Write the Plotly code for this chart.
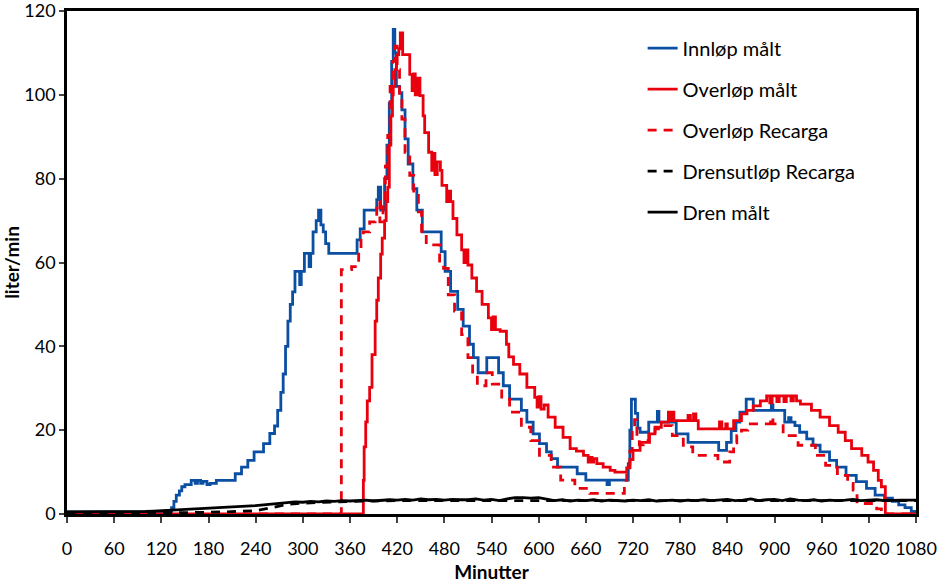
import plotly.graph_objects as go

# ---- Data (minutes, liter/min) ----
innlop_t = [0, 133, 136, 139, 143, 146, 150, 158, 163, 166, 170, 173, 178, 182, 190, 214, 222, 230, 238, 250, 258,
            264, 268, 272, 275, 278, 281, 284, 287, 290, 296, 298, 302, 308, 310, 313, 317, 320, 323, 326, 329, 333,
            369, 373, 378, 394, 396, 399, 404, 407, 410, 413, 415, 417, 419, 423, 426, 430, 434, 440, 445, 452,
            476, 481, 488, 497, 504, 512, 517, 523, 534, 549, 555, 563, 578, 585, 593, 601, 610, 616, 624, 649,
            660, 687, 690, 714, 716, 718, 720, 723, 726, 729, 740, 751, 753, 775, 790, 829, 839, 845, 851, 856,
            864, 873, 896, 898, 913, 918, 921, 926, 932, 941, 949, 958, 970, 979, 991, 1004, 1017, 1028, 1040,
            1050, 1058, 1066, 1074, 1080]
innlop_v = [0.5, 1.5, 3, 4.5, 5.5, 6.5, 7, 8, 7.3, 8, 7.3, 7.8, 7, 7.3, 8, 9.6, 11.2, 12.8, 14.8, 16.8, 19.2,
            21, 24.7, 29, 33.4, 40, 46, 50, 53, 57.9, 54.7, 57.9, 62.2, 59, 62.2, 67.3, 70, 72.5, 69, 67.3, 64.5, 62.2,
            65.4, 68, 72.5, 75, 78, 72.5, 80, 88, 98, 108, 115.6, 110, 102, 100.5, 96.4, 89.5, 83.5, 77.6, 72.5, 67.3,
            62.6, 57.9, 53.1, 48.8, 44.8, 40.5, 37.3, 33.7, 37.3, 33.7, 30.6, 27.4, 24.7, 21.9, 19.1, 16.8, 14.8, 13.2, 11.2, 9.6,
            8.1, 7, 8.1, 12, 20, 27.4, 27.4, 24, 20.5, 19.5, 21.9, 24.5, 21.9, 19.1, 17.1, 15.2, 17.1, 19.9, 21.9, 24.3,
            27.4, 24.7, 26, 24.7, 21.9, 23, 21.9, 21.1, 19.5, 17.9, 16.4, 14.8, 12.8, 11.2, 9.2, 7.7, 6.1, 4.5, 3.8,
            3.0, 2.2, 1.5, 0.6, 0.3]

overlop_t = [0, 377, 378, 380, 382, 385, 388, 392, 394, 396, 399, 401, 404, 406, 408, 410, 412, 414, 415, 417, 419,
             422, 424, 427, 436, 439, 441, 443, 446, 449, 453, 455, 460, 464, 466, 468, 471, 475, 477, 483, 486, 488,
             491, 496, 502, 505, 507, 510, 515, 521, 528, 536, 540, 542, 545, 551, 559, 562, 568, 576, 585, 595, 598,
             600, 603, 607, 612, 621, 631, 640, 648, 657, 663, 665, 668, 670, 674, 682, 691, 697, 712, 716, 720, 729,
             741, 748, 756, 765, 767, 770, 772, 790, 793, 797, 800, 803, 830, 833, 838, 840, 848, 858, 865, 873, 882,
             890, 894, 897, 903, 906, 912, 915, 921, 924, 928, 933, 947, 958, 970, 981, 990, 998, 1011, 1019, 1026,
             1032, 1036, 1041, 1080]
overlop_v = [0, 8, 16, 22, 27, 30.2, 38, 46, 51, 56.3, 62, 65.8, 70, 74.5, 78, 88, 95, 100, 102, 106, 109.6,
             111, 114.8, 109.6, 104.9, 101, 105, 100, 104, 99.8, 95, 91, 86.3, 82, 86, 81, 84, 82, 78.4, 74.5, 77, 74.5,
             70.5, 66.6, 63, 60, 63, 59.4, 56.3, 53.1, 50, 46.8, 44, 47, 44, 43.6, 40.5, 37.5, 35.7, 33.4, 30.2, 27.8, 25.5,
             28, 25, 26, 23.1, 20.7, 18.3, 15.6, 15, 14, 12.4, 13.5, 12.4, 13.2, 12, 11.2, 10.4, 10, 11, 13, 15.2, 17.1,
             19.1, 20.7, 21.9, 24.3, 22.3, 24.3, 22.3, 23.5, 22.3, 23.9, 22.3, 20.3, 22, 20.3, 21.5, 20.3, 22.3, 23.9, 24.7, 25.8, 27,
             28.2, 26.5, 28.2, 26.8, 28.2, 26.8, 28.2, 27, 28.2, 27, 26.2, 24.7, 23.1, 21.1, 19.5, 17.5, 15.6, 14, 12.4, 10.4,
             8, 6.5, 0, 0]

recarga_t = [0, 349, 362, 371, 374, 377, 385, 392, 394, 398, 402, 405, 408, 411, 414, 417, 420, 423, 426, 430, 436,
             441, 447, 451, 457, 474, 479, 485, 493, 502, 510, 516, 522, 533, 541, 553, 563, 578, 590, 601, 616, 628,
             646, 665, 709, 712, 716, 719, 722, 725, 728, 733, 740, 748, 756, 770, 784, 796, 828, 843, 848, 852, 858,
             866, 895, 898, 911, 930, 952, 965, 980, 993, 1000, 1005, 1020, 1030, 1036, 1080]
recarga_v = [0, 58.3, 59, 62, 66.6, 67.3, 69.7, 70, 74.5, 69.7, 75, 83, 90.3, 102, 108, 111.6, 106, 100, 94.2, 86.3, 80.8,
             76, 72.1, 66.6, 64.2, 59.4, 58.6, 52.3, 48.4, 42.8, 37.3, 33, 30.6, 33.7, 31, 27.4, 24.3, 20.7, 17.5, 14, 11.2, 8.1,
             6.1, 4.9, 8, 11.2, 15, 20, 22.5, 18, 16.5, 17.5, 19, 20.3, 21.1, 18.7, 16, 14, 12.4, 14.8, 17, 18.7, 20,
             21.5, 23.1, 21.5, 18.7, 16.4, 14, 11.6, 9.2, 7.3, 5.7, 2.5, 2.5, 1.2, 0, 0]

drens_recarga_t = [0, 150, 200, 240, 260, 280, 300, 340, 380, 420, 1080]
drens_recarga_v = [0.3, 0.3, 0.5, 0.8, 1.5, 2.3, 2.6, 2.9, 3.1, 3.2, 3.2]

dren_t = list(range(0, 1081, 10))
dren_v = [0.5, 0.5, 0.6, 0.5, 0.5, 0.6, 0.5, 0.5, 0.5, 0.6, 0.6, 0.7, 0.8, 0.9, 1.0, 1.0, 1.1, 1.2, 1.3, 1.4,
          1.5, 1.6, 1.7, 1.9, 2.0, 2.2, 2.4, 2.6, 2.7, 2.9, 2.8, 3.0, 2.9, 3.1, 3.0, 3.2, 3.1, 3.2, 3.3, 3.1,
          3.3, 3.4, 3.3, 3.5, 3.3, 3.6, 3.4, 3.5, 3.3, 3.5, 3.4, 3.4, 3.6, 3.3, 3.5, 3.2, 3.6, 3.9, 3.9, 3.8,
          3.9, 3.5, 3.2, 3.4, 3.1, 3.3, 3.2, 3.4, 3.1, 3.3, 3.2, 3.1, 3.3, 3.2, 3.4, 3.1, 3.2, 3.3, 3.1, 3.3,
          3.2, 3.4, 3.2, 3.3, 3.5, 3.2, 3.3, 3.6, 3.2, 3.4, 3.5, 3.2, 3.6, 3.3, 3.2, 3.4, 3.1, 3.3, 3.2, 3.3,
          3.5, 3.2, 3.3, 3.4, 3.2, 3.3, 3.3, 3.3, 3.3]

x_ticks = list(range(0, 1081, 60))
y_ticks = list(range(0, 121, 20))

BLUE = "#0B4FA3"
RED = "#E8000E"

fig = go.Figure()
fig.add_trace(go.Scatter(x=innlop_t, y=innlop_v, mode="lines", name="Innløp målt", legendgroup="a",
                         line=dict(color=BLUE, width=2.8, shape="hv")))
fig.add_trace(go.Scatter(x=overlop_t, y=overlop_v, mode="lines", name="Overløp målt", legendgroup="b",
                         line=dict(color=RED, width=2.8, shape="hv")))
fig.add_trace(go.Scatter(x=recarga_t, y=recarga_v, mode="lines", name="Overløp Recarga", legendgroup="c",
                         line=dict(color=RED, width=2.8, dash="9px,7px", shape="hv")))
fig.add_trace(go.Scatter(x=drens_recarga_t, y=drens_recarga_v, mode="lines", name="Drensutløp Recarga", legendgroup="d",
                         line=dict(color="black", width=2.8, dash="9px,7px")))
fig.add_trace(go.Scatter(x=dren_t, y=dren_v, mode="lines", name="Dren målt", legendgroup="e",
                         line=dict(color="black", width=2.8)))

font = "Lato, 'Open Sans', sans-serif"
fig.update_layout(
    width=943, height=585,
    margin=dict(l=67, r=27, t=11, b=71, autoexpand=False),
    paper_bgcolor="white", plot_bgcolor="white",
    font=dict(family=font, size=18, color="black"),
    showlegend=True,
    legend=dict(x=0.678, y=0.965, xanchor="left", yanchor="top", bgcolor="rgba(0,0,0,0)",
                font=dict(size=20), tracegroupgap=12, itemwidth=30),
    xaxis=dict(range=[0, 1080], tickvals=x_ticks, ticks="outside", ticklen=6, tickwidth=1.5,
               showline=True, linecolor="black", linewidth=2.5, mirror=True, showgrid=False, zeroline=False,
               ticklabelstandoff=11, automargin=False, ticklabeloverflow="allow",
               title=dict(text="<b>Minutter</b>", font=dict(size=19), standoff=8)),
    yaxis=dict(range=[0, 120], tickvals=y_ticks, ticks="outside", ticklen=5, tickwidth=1.5,
               showline=True, linecolor="black", linewidth=2.5, mirror=True, showgrid=False, zeroline=False,
               automargin=False, ticklabeloverflow="allow",
               title=dict(text="<b>liter/min</b>", font=dict(size=19), standoff=5)),
)

fig.write_html("out.html", config={"displayModeBar": False},
               post_script="document.body.style.margin='0';document.body.style.padding='0';")
